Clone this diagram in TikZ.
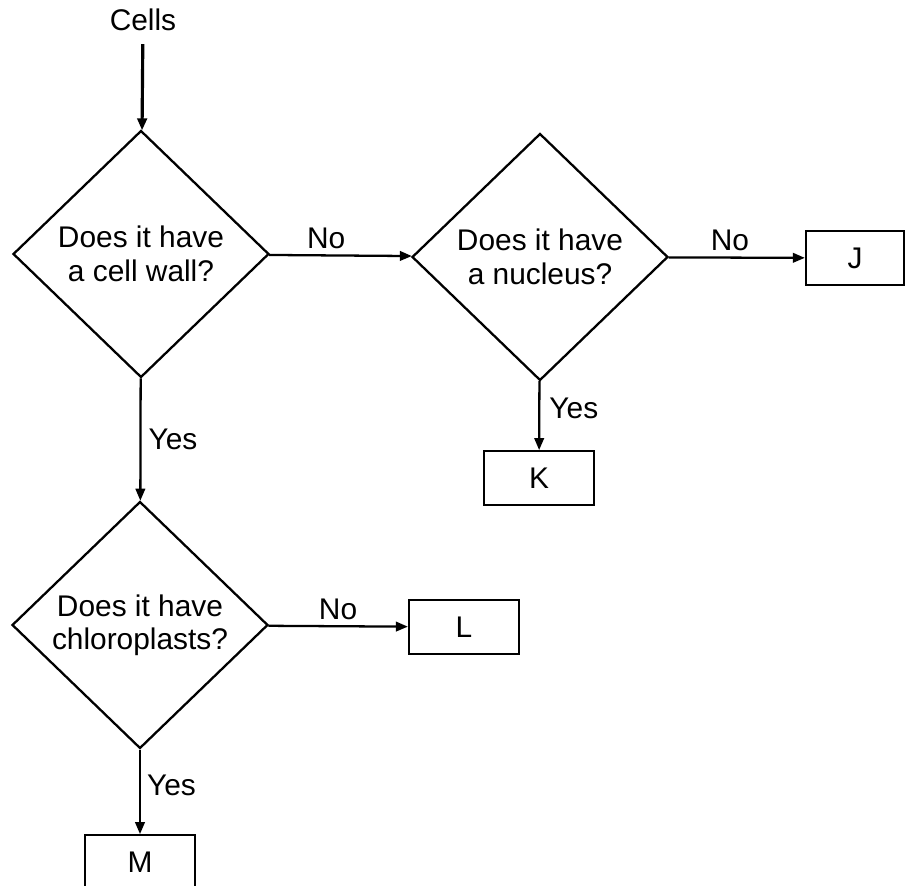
\documentclass[tikz,border=0pt]{standalone}
\usepackage{fontspec}
\setmainfont{Liberation Sans}
\usetikzlibrary{arrows.meta, shapes.geometric, positioning}

\tikzset{
  question/.style={diamond, draw, minimum width=5.12cm, minimum height=4.94cm,
    inner sep=0pt, align=center, font=\fontsize{17}{19}\selectfont},
  answer/.style={rectangle, draw, minimum width=2.2cm, minimum height=1.07cm,
    inner sep=0pt, font=\fontsize{17}{19}\selectfont},
  lbl/.style={inner sep=0pt, font=\fontsize{17}{19}\selectfont}
}

\begin{document}
\begin{tikzpicture}[x=0.02cm, y=-0.02cm, line width=1.3pt,
  >={Triangle[length=0.24cm, width=0.19cm]}]

\useasboundingbox (0,0) rectangle (907,886);

  \node[lbl]       (cells)   at (143, 20)  {Cells};
  \node[question]  (wall)    at (141, 254) {Does it have\\a cell wall?};
  \node[question]  (nucleus) at (540, 257) {Does it have\\a nucleus?};
  \node[question]  (chloro)  at (140, 625) {Does it have\\chloroplasts?};

  \node[answer, minimum width=1.96cm] (J) at (855, 258) {J};
  \node[answer]    (K)       at (539, 478) {K};
  \node[answer]    (L)       at (464, 627) {L};
  \node[answer]    (M)       at (140, 862) {M};


  \path[->] (cells)   edge [shorten <=0.24cm, line width=1.8pt] (wall)
            (wall)    edge node[lbl, above=0.11cm, pos=0.4] {No}  (nucleus)
            (nucleus) edge node[lbl, above=0.11cm, pos=0.45] {No} (J)
            (chloro)  edge node[lbl, above=0.1cm]           {No}  (L)
            (wall)    edge node[lbl, right=0.14cm]          {Yes} (chloro)
            (nucleus) edge node[lbl, right=0.18cm, pos=0.4] {Yes} (K)
            (chloro)  edge node[lbl, right=0.12cm, pos=0.42] {Yes} (M)
            ;

\end{tikzpicture}
\end{document}
